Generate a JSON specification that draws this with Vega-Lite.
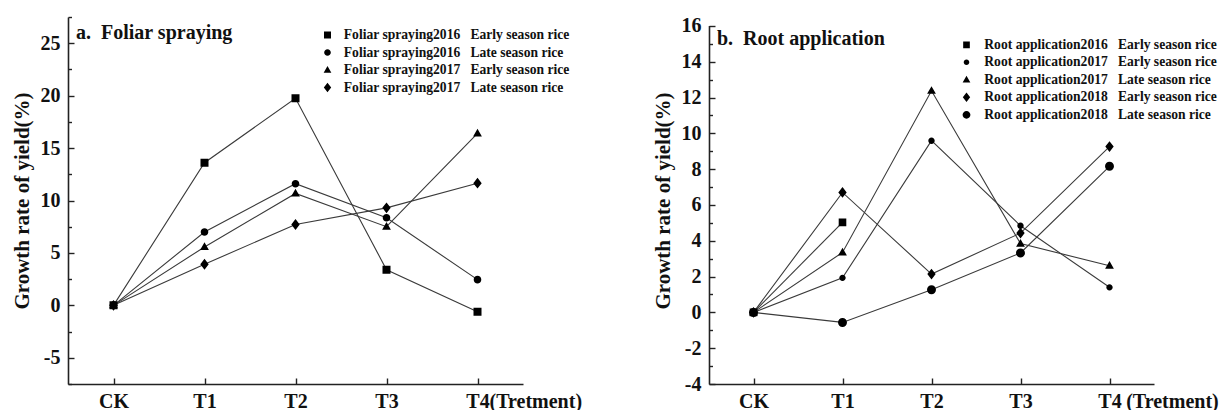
{
  "$schema": "https://vega.github.io/schema/vega-lite/v6.json",
  "background": "white",
  "autosize": {"type": "pad"},
  "padding": {"left": 11, "top": 15, "right": 0, "bottom": 0},
  "config": {
    "font": "Liberation Serif",
    "view": {"stroke": null},
    "axis": {
      "grid": false,
      "domainColor": "#222", "domainWidth": 1.6,
      "tickColor": "#222", "tickWidth": 1.4,
      "labelFont": "Liberation Serif", "labelFontWeight": "bold", "labelFontSize": 20, "labelColor": "#111",
      "titleFont": "Liberation Serif", "titleFontWeight": "bold", "titleFontSize": 21, "titleColor": "#111"
    },
    "legend": {
      "orient": "none", "title": null, "padding": 0,
      "labelFont": "Liberation Serif", "labelFontWeight": "bold", "labelFontSize": 13.6, "labelColor": "#111",
      "labelLimit": 400, "labelOffset": 9.5, "symbolSize": 49, "rowPadding": 2.5,
      "symbolFillColor": "#000", "symbolStrokeColor": "#333", "symbolStrokeWidth": 1, "symbolOpacity": 1
    }
  },
  "datasets": {
    "foliarData": [
      {"t": "CK", "v": 0, "s": "Foliar spraying2016\u00a0\u00a0\u00a0Early season rice"},
      {"t": "T1", "v": 13.6, "s": "Foliar spraying2016\u00a0\u00a0\u00a0Early season rice"},
      {"t": "T2", "v": 19.75, "s": "Foliar spraying2016\u00a0\u00a0\u00a0Early season rice"},
      {"t": "T3", "v": 3.4, "s": "Foliar spraying2016\u00a0\u00a0\u00a0Early season rice"},
      {"t": "T4", "v": -0.62, "s": "Foliar spraying2016\u00a0\u00a0\u00a0Early season rice"},
      {"t": "CK", "v": 0, "s": "Foliar spraying2016\u00a0\u00a0\u00a0Late season rice"},
      {"t": "T1", "v": 7.0, "s": "Foliar spraying2016\u00a0\u00a0\u00a0Late season rice"},
      {"t": "T2", "v": 11.6, "s": "Foliar spraying2016\u00a0\u00a0\u00a0Late season rice"},
      {"t": "T3", "v": 8.35, "s": "Foliar spraying2016\u00a0\u00a0\u00a0Late season rice"},
      {"t": "T4", "v": 2.45, "s": "Foliar spraying2016\u00a0\u00a0\u00a0Late season rice"},
      {"t": "CK", "v": 0, "s": "Foliar spraying2017\u00a0\u00a0\u00a0Early season rice"},
      {"t": "T1", "v": 5.57, "s": "Foliar spraying2017\u00a0\u00a0\u00a0Early season rice"},
      {"t": "T2", "v": 10.67, "s": "Foliar spraying2017\u00a0\u00a0\u00a0Early season rice"},
      {"t": "T3", "v": 7.5, "s": "Foliar spraying2017\u00a0\u00a0\u00a0Early season rice"},
      {"t": "T4", "v": 16.4, "s": "Foliar spraying2017\u00a0\u00a0\u00a0Early season rice"},
      {"t": "CK", "v": 0, "s": "Foliar spraying2017\u00a0\u00a0\u00a0Late season rice"},
      {"t": "T1", "v": 3.92, "s": "Foliar spraying2017\u00a0\u00a0\u00a0Late season rice"},
      {"t": "T2", "v": 7.71, "s": "Foliar spraying2017\u00a0\u00a0\u00a0Late season rice"},
      {"t": "T3", "v": 9.3, "s": "Foliar spraying2017\u00a0\u00a0\u00a0Late season rice"},
      {"t": "T4", "v": 11.65, "s": "Foliar spraying2017\u00a0\u00a0\u00a0Late season rice"}
    ],
    "rootData": [
      {"t": "CK", "v": 0, "s": "Root application2016\u00a0\u00a0\u00a0Early season rice"},
      {"t": "T1", "v": 5.03, "s": "Root application2016\u00a0\u00a0\u00a0Early season rice"},
      {"t": "CK", "v": 0, "s": "Root application2017\u00a0\u00a0\u00a0Early season rice"},
      {"t": "T1", "v": 1.93, "s": "Root application2017\u00a0\u00a0\u00a0Early season rice"},
      {"t": "T2", "v": 9.59, "s": "Root application2017\u00a0\u00a0\u00a0Early season rice"},
      {"t": "T3", "v": 4.84, "s": "Root application2017\u00a0\u00a0\u00a0Early season rice"},
      {"t": "T4", "v": 1.4, "s": "Root application2017\u00a0\u00a0\u00a0Early season rice"},
      {"t": "CK", "v": 0, "s": "Root application2017\u00a0\u00a0\u00a0Late season rice"},
      {"t": "T1", "v": 3.35, "s": "Root application2017\u00a0\u00a0\u00a0Late season rice"},
      {"t": "T2", "v": 12.38, "s": "Root application2017\u00a0\u00a0\u00a0Late season rice"},
      {"t": "T3", "v": 3.84, "s": "Root application2017\u00a0\u00a0\u00a0Late season rice"},
      {"t": "T4", "v": 2.61, "s": "Root application2017\u00a0\u00a0\u00a0Late season rice"},
      {"t": "CK", "v": 0, "s": "Root application2018\u00a0\u00a0\u00a0Early season rice"},
      {"t": "T1", "v": 6.7, "s": "Root application2018\u00a0\u00a0\u00a0Early season rice"},
      {"t": "T2", "v": 2.14, "s": "Root application2018\u00a0\u00a0\u00a0Early season rice"},
      {"t": "T3", "v": 4.43, "s": "Root application2018\u00a0\u00a0\u00a0Early season rice"},
      {"t": "T4", "v": 9.26, "s": "Root application2018\u00a0\u00a0\u00a0Early season rice"},
      {"t": "CK", "v": 0, "s": "Root application2018\u00a0\u00a0\u00a0Late season rice"},
      {"t": "T1", "v": -0.56, "s": "Root application2018\u00a0\u00a0\u00a0Late season rice"},
      {"t": "T2", "v": 1.27, "s": "Root application2018\u00a0\u00a0\u00a0Late season rice"},
      {"t": "T3", "v": 3.32, "s": "Root application2018\u00a0\u00a0\u00a0Late season rice"},
      {"t": "T4", "v": 8.16, "s": "Root application2018\u00a0\u00a0\u00a0Late season rice"}
    ]
  },
  "bounds": "flush",
  "spacing": 186,
  "resolve": {"scale": {"shape": "independent", "x": "independent", "y": "independent"}, "legend": {"shape": "independent"}},
  "hconcat": [
    {
      "width": 455,
      "height": 367,
      "data": {"name": "foliarData"},
      "title": {"text": "a.\u00a0\u00a0Foliar spraying", "anchor": "start", "frame": "group", "orient": "top", "offset": -42.3, "baseline": "alphabetic", "dx": 8, "fontSize": 20, "fontWeight": "bold", "font": "Liberation Serif", "color": "#111"},
      "encoding": {
        "x": {
          "field": "t", "type": "ordinal",
          "scale": {"type": "point", "domain": ["CK", "T1", "T2", "T3", "T4"], "padding": 0.5},
          "axis": {"labelAngle": 0, "tickSize": -6, "labelPadding": 13.5, "title": "(Tretment)", "titleAlign": "left", "titleX": 421, "titleY": 7.7, "titleBaseline": "top", "titleFontSize": 20}
        },
        "y": {
          "field": "v", "type": "quantitative",
          "scale": {"domain": [-7.5, 27.5], "nice": false, "zero": false},
          "axis": {
            "values": [-7.5, -5, -2.5, 0, 2.5, 5, 7.5, 10, 12.5, 15, 17.5, 20, 22.5, 25, 27.5],
            "labelExpr": "datum.value % 5 === 0 ? '' + datum.value : ''",
            "tickSize": {"condition": {"test": "datum.value % 5 !== 0", "value": -3.5}, "value": -6},
            "labelPadding": 14,
            "title": "Growth rate of yield(%)",
            "titlePadding": 8
          }
        }
      },
      "layer": [
        {"mark": {"type": "line", "color": "#3a3a3a", "strokeWidth": 1.1}, "encoding": {"detail": {"field": "s"}}},
        {
          "mark": {"type": "point", "filled": true, "fill": "#000", "strokeOpacity": 0, "opacity": 1, "size": 64},
          "encoding": {
            "shape": {
              "field": "s", "type": "nominal",
              "scale": {
                "domain": ["Foliar spraying2016\u00a0\u00a0\u00a0Early season rice", "Foliar spraying2016\u00a0\u00a0\u00a0Late season rice", "Foliar spraying2017\u00a0\u00a0\u00a0Early season rice", "Foliar spraying2017\u00a0\u00a0\u00a0Late season rice"],
                "range": ["M-4.3,0H4.3M-1,-1H1V1H-1Z", "M-4.3,0H4.3M-0.95,0A0.95,0.95,0,1,0,0.95,0A0.95,0.95,0,1,0,-0.95,0Z", "M-4.3,0H4.3M0,-1.15L1.1,0.75H-1.1Z", "M-4.3,0H4.3M0,-1.35L1.05,0L0,1.35L-1.05,0Z"]
              },
              "legend": {
                "legendX": 252.7, "legendY": 11.2,
                "encode": {"symbols": {"stroke": {"value": "#333"}, "strokeWidth": {"value": 1}, "strokeOpacity": {"value": 1}, "fill": {"value": "#000"}, "fillOpacity": {"value": 1}, "size": {"value": 49}}}
              }
            }
          }
        }
      ]
    },
    {
      "width": 445,
      "height": 367,
      "data": {"name": "rootData"},
      "title": {"text": "b.\u00a0\u00a0Root application", "anchor": "start", "frame": "group", "orient": "top", "offset": -49.5, "baseline": "alphabetic", "dx": 8, "fontSize": 20, "fontWeight": "bold", "font": "Liberation Serif", "color": "#111"},
      "encoding": {
        "x": {
          "field": "t", "type": "ordinal",
          "scale": {"type": "point", "domain": ["CK", "T1", "T2", "T3", "T4"], "padding": 0.5},
          "axis": {"labelAngle": 0, "tickSize": -6, "labelPadding": 13.5, "title": "(Tretment)", "titleAlign": "left", "titleX": 416.7, "titleY": 7.7, "titleBaseline": "top", "titleFontSize": 20}
        },
        "y": {
          "field": "v", "type": "quantitative",
          "scale": {"domain": [-4, 16.5], "nice": false, "zero": false},
          "axis": {
            "values": [-4, -3, -2, -1, 0, 1, 2, 3, 4, 5, 6, 7, 8, 9, 10, 11, 12, 13, 14, 15, 16],
            "labelExpr": "datum.value % 2 === 0 ? '' + datum.value : ''",
            "tickSize": {"condition": {"test": "datum.value % 2 !== 0", "value": -3.5}, "value": -6},
            "labelPadding": 14,
            "domainDash": [358.5, 30],
            "title": "Growth rate of yield(%)",
            "titlePadding": 8
          }
        }
      },
      "layer": [
        {"mark": {"type": "line", "color": "#3a3a3a", "strokeWidth": 1.1}, "encoding": {"detail": {"field": "s"}}},
        {
          "mark": {"type": "point", "filled": true, "fill": "#000", "strokeOpacity": 0, "opacity": 1, "size": 64},
          "encoding": {
            "shape": {
              "field": "s", "type": "nominal",
              "scale": {
                "domain": ["Root application2016\u00a0\u00a0\u00a0Early season rice", "Root application2017\u00a0\u00a0\u00a0Early season rice", "Root application2017\u00a0\u00a0\u00a0Late season rice", "Root application2018\u00a0\u00a0\u00a0Early season rice", "Root application2018\u00a0\u00a0\u00a0Late season rice"],
                "range": ["M-4.3,0H4.3M-0.95,-0.95H0.95V0.95H-0.95Z", "M-4.3,0H4.3M-0.8,0A0.8,0.8,0,1,0,0.8,0A0.8,0.8,0,1,0,-0.8,0Z", "M-4.3,0H4.3M0,-1.15L1.1,0.75H-1.1Z", "M-4.3,0H4.3M0,-1.35L1.05,0L0,1.35L-1.05,0Z", "M-4.3,0H4.3M-1.12,0A1.12,1.12,0,1,0,1.12,0A1.12,1.12,0,1,0,-1.12,0Z"]
              },
              "legend": {
                "legendX": 250.7, "legendY": 21, "rowPadding": 2.5, "labelOffset": 11,
                "encode": {"symbols": {"stroke": {"value": "#333"}, "strokeWidth": {"value": 1}, "strokeOpacity": {"value": 1}, "fill": {"value": "#000"}, "fillOpacity": {"value": 1}, "size": {"value": 49}}}
              }
            }
          }
        }
      ]
    }
  ]
}
